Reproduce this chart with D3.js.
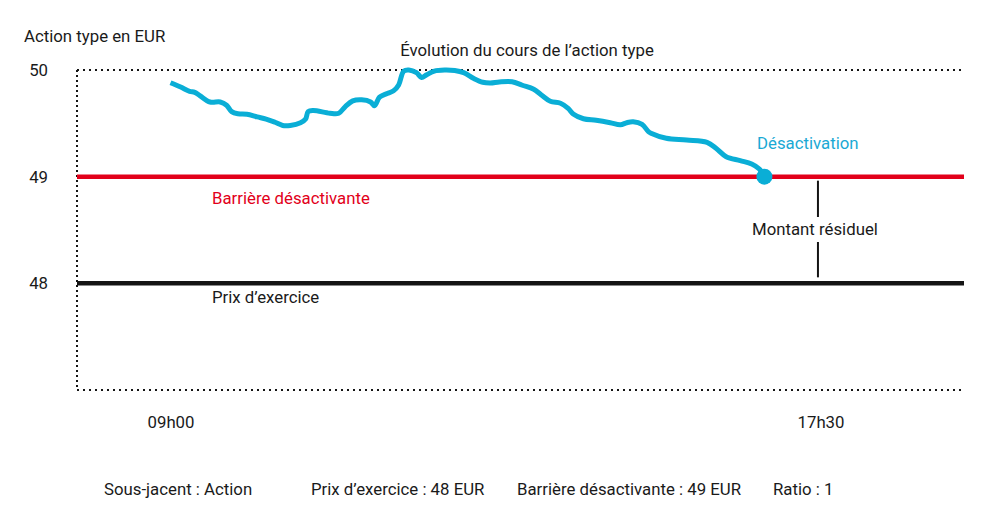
<!DOCTYPE html>
<html>
<head>
<meta charset="utf-8">
<script src="https://cdn.jsdelivr.net/npm/d3@7"></script>
<style>
	body { margin: 0; background: #fff; }
	svg text { font-family: Roboto, "Open Sans", sans-serif; font-size: 16.8px; fill: #1a1a1a; }
	.axis .domain { display: none; }
	.axis text { font-size: 16.8px; fill: #1a1a1a; }
</style>
</head>
<body>
<svg id="chart" width="989" height="523"></svg>
<script>
// cours de l'action type (heure, prix en EUR)
var times = ["09:00","09:08","09:15","09:19","09:23","09:31","09:39","09:44","09:48","09:53",
	"10:00","10:08","10:15","10:22","10:28","10:34","10:42","10:46","10:48","10:52",
	"11:05","11:12","11:17","11:23","11:30","11:37","11:40","11:44","11:50","11:55",
	"11:59","12:03","12:07","12:13","12:17","12:21","12:27","12:35","12:43","12:50",
	"12:58","13:05","13:11","13:18","13:28","13:36","13:45","13:51","13:58","14:06",
	"14:12","14:16","14:24","14:34","14:45","14:53","14:58","15:03","15:10","15:15",
	"15:17","15:29","15:45","16:01","16:08","16:16","16:27","16:36","16:42","16:46"];
var prices = [49.88,49.84,49.80,49.79,49.76,49.70,49.70,49.67,49.61,49.59,
	49.585,49.56,49.54,49.51,49.48,49.48,49.505,49.54,49.61,49.62,
	49.595,49.595,49.655,49.71,49.72,49.70,49.665,49.745,49.78,49.805,
	49.86,49.99,50.0,49.975,49.93,49.955,49.99,50.0,49.995,49.975,
	49.92,49.885,49.878,49.888,49.89,49.857,49.82,49.766,49.707,49.688,
	49.64,49.588,49.543,49.528,49.506,49.487,49.506,49.514,49.49,49.422,
	49.407,49.36,49.344,49.322,49.266,49.187,49.15,49.119,49.072,49.0];

var priceTicks = [48, 49, 50];
var timeTicks = ["09:00", "17:30"];
var strike = 48,
	barrier = 49,
	residualTime = "17:28";

var footer = ["Sous-jacent : Action", "Prix d\u2019exercice : 48 EUR",
	"Barri\u00e8re d\u00e9sactivante : 49 EUR", "Ratio : 1"];
var footerX = [104, 311, 517, 773];

var blue = "#0aaed6",
	red = "#e2001a",
	black = "#141414";

var parse = d3.timeParse("%H:%M");
var data = times.map(function(t, i){
	return {t: parse(t), p: prices[i]};
});

var frame = {left: 77, right: 964, top: 70, bottom: 390};

var svg = d3.select("#chart");

var x = d3.scaleTime()
	.domain([parse(timeTicks[0]), parse(timeTicks[1])])
	.range([170.5, 820.5]);

var y = d3.scaleLinear()
	.domain([47, 50])
	.range([frame.bottom, frame.top]);

// cadre pointillé
svg.append("line")
	.attr("x1", frame.left).attr("x2", frame.right)
	.attr("y1", y(50)).attr("y2", y(50))
	.attr("stroke", black).attr("stroke-width", 2)
	.attr("stroke-dasharray", "2,4");
svg.append("line")
	.attr("x1", frame.left).attr("x2", frame.right)
	.attr("y1", y(47)).attr("y2", y(47))
	.attr("stroke", black).attr("stroke-width", 2)
	.attr("stroke-dasharray", "2,4");
svg.append("line")
	.attr("x1", frame.left).attr("x2", frame.left)
	.attr("y1", y(50)).attr("y2", y(47))
	.attr("stroke", black).attr("stroke-width", 2)
	.attr("stroke-dasharray", "2,3");

// axes
var yAxis = d3.axisLeft(y)
	.tickValues(priceTicks)
	.tickSize(0)
	.tickPadding(0)
	.tickFormat(d3.format("d"));

svg.append("g")
	.attr("class", "y axis")
	.attr("transform", "translate(48,0)")
	.call(yAxis);

var xAxis = d3.axisBottom(x)
	.tickValues(timeTicks.map(parse))
	.tickSize(0)
	.tickPadding(0)
	.tickFormat(d3.timeFormat("%Hh%M"));

svg.append("g")
	.attr("class", "x axis")
	.attr("transform", "translate(0,416)")
	.call(xAxis);

svg.append("text")
	.attr("x", 24)
	.attr("y", 42)
	.text("Action type en EUR");

// barrière et prix d'exercice
svg.append("line")
	.attr("x1", frame.left).attr("x2", frame.right)
	.attr("y1", y(barrier)).attr("y2", y(barrier))
	.attr("stroke", red).attr("stroke-width", 4.5);

svg.append("line")
	.attr("x1", frame.left).attr("x2", frame.right)
	.attr("y1", y(strike)).attr("y2", y(strike))
	.attr("stroke", black).attr("stroke-width", 4.5);

svg.append("text")
	.attr("x", 212)
	.attr("y", y(barrier) + 27)
	.style("fill", red)
	.text("Barri\u00e8re d\u00e9sactivante");

svg.append("text")
	.attr("x", 212)
	.attr("y", y(strike) + 20)
	.text("Prix d\u2019exercice");

// montant résiduel
var rx = x(parse(residualTime));
svg.append("line")
	.attr("x1", rx).attr("x2", rx)
	.attr("y1", y(barrier) + 4).attr("y2", 217)
	.attr("stroke", black).attr("stroke-width", 2);
svg.append("line")
	.attr("x1", rx).attr("x2", rx)
	.attr("y1", 242).attr("y2", y(strike) - 6)
	.attr("stroke", black).attr("stroke-width", 2);
svg.append("text")
	.attr("x", rx - 3)
	.attr("y", 235)
	.attr("text-anchor", "middle")
	.text("Montant r\u00e9siduel");

// cours
var line = d3.line()
	.x(function(d){ return x(d.t); })
	.y(function(d){ return y(d.p); })
	.curve(d3.curveCatmullRom);

svg.append("path")
	.datum(data)
	.attr("fill", "none")
	.attr("stroke", blue)
	.attr("stroke-width", 5)
	.attr("stroke-linejoin", "round")
	.attr("stroke-linecap", "butt")
	.attr("d", line);

var last = data[data.length - 1];
svg.append("circle")
	.attr("cx", x(last.t))
	.attr("cy", y(last.p))
	.attr("r", 8)
	.attr("fill", blue);

svg.append("text")
	.attr("x", 757)
	.attr("y", 149)
	.style("fill", "#1aa9d4")
	.text("D\u00e9sactivation");

svg.append("text")
	.attr("x", 527)
	.attr("y", 56)
	.attr("text-anchor", "middle")
	.text("\u00c9volution du cours de l\u2019action type");

// bas de page
svg.selectAll(".footer")
	.data(footer)
	.enter().append("text")
	.attr("class", "footer")
	.attr("x", function(d, i){ return footerX[i]; })
	.attr("y", 495)
	.text(function(d){ return d; });
</script>
</body>
</html>
